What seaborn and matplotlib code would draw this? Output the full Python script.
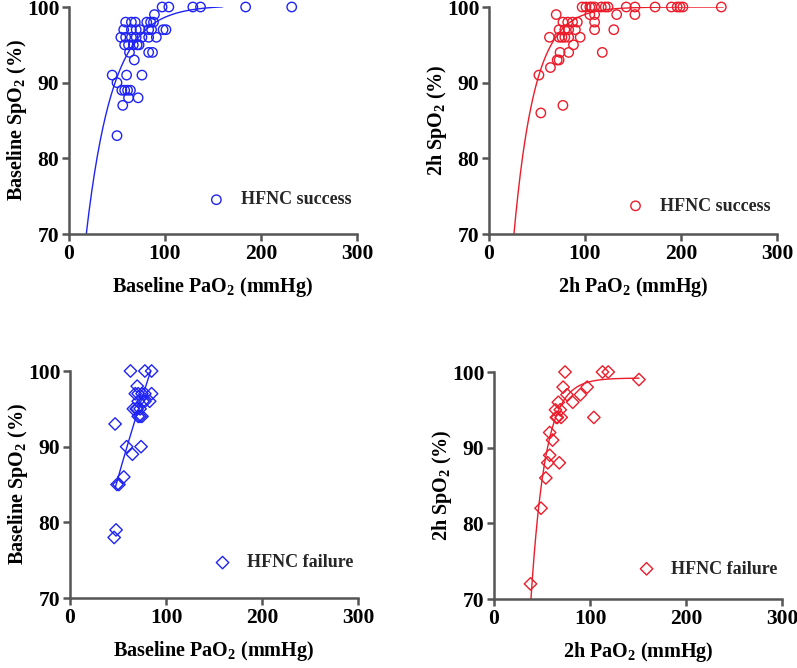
import matplotlib
matplotlib.use("Agg")
import matplotlib.pyplot as plt
import seaborn as sns
import pandas as pd
import numpy as np

# Baseline, HFNC success
base_succ_pao2 = [97, 104, 129, 137, 184, 232, 89,
                  59, 65, 69, 81, 85, 88,
                  57, 65, 70, 74, 83, 86, 98, 101,
                  54, 59, 65, 70, 76, 83, 91,
                  58, 62, 67, 71, 73,
                  63, 83, 87, 68,
                  45, 60, 76, 50,
                  55, 58, 61, 64,
                  62, 72, 56, 50]
base_succ_spo2 = [100, 100, 100, 100, 100, 100, 99,
                  98, 98, 98, 98, 98, 98,
                  97, 97, 97, 97, 97, 97, 97, 97,
                  96, 96, 96, 96, 96, 96, 96,
                  95, 95, 95, 95, 95,
                  94, 94, 94, 93,
                  91, 91, 91, 90,
                  89, 89, 89, 89,
                  88, 88, 87, 83]

# 2h, HFNC success
h2_succ_pao2 = [97, 101, 105, 107, 110, 117, 121, 124, 143, 152, 173, 190, 196, 199, 202, 242,
                70, 105, 110, 133, 152,
                77, 82, 87, 92, 110,
                73, 79, 83, 90, 110, 130,
                63, 73, 76, 79, 83, 95,
                88, 74, 83, 118,
                71, 73, 64, 52, 77, 54]
h2_succ_spo2 = [100, 100, 100, 100, 100, 100, 100, 100, 100, 100, 100, 100, 100, 100, 100, 100,
                99, 99, 99, 99, 99,
                98, 98, 98, 98, 98,
                97, 97, 97, 97, 97, 97,
                96, 96, 96, 96, 96, 96,
                95, 94, 94, 94,
                93, 93, 92, 91, 87, 86]

# Baseline, HFNC failure
base_fail_pao2 = [63, 78, 85, 70, 68, 71, 75, 78, 85, 71, 76, 78, 83,
                  66, 69, 70, 73, 71, 73, 75, 47, 59, 74, 65, 56, 49, 51, 48, 46]
base_fail_spo2 = [100, 100, 100, 98, 97, 97, 97, 97, 97, 96, 96, 96, 96,
                  95, 95, 95, 95, 94, 94, 94, 93, 90, 90, 89, 86, 85, 85, 79, 78]

# 2h, HFNC failure
h2_fail_pao2 = [74, 113, 119, 151, 72, 97, 76, 90, 67, 82, 64, 69,
                66, 70, 65, 104, 58, 61, 58, 56, 68, 54, 49, 38]
h2_fail_spo2 = [100, 100, 100, 99, 98, 98, 97, 97, 96, 96, 95, 95,
                94, 94, 94, 94, 92, 91, 89, 88, 88, 86, 82, 72]

# fitted curve parameters (plateau, start x, start y, rate, end x)
fit_base_succ = (100.2, 18, 70, 0.0362, 160)
fit_h2_succ = (100.0, 26, 70, 0.0463, 244)
fit_base_fail = (176.0, 47, 84.5, 0.005, 84)
fit_h2_fail = (99.2, 38.5, 70, 0.067, 151)

BLUE = "#1f24f5"
RED = "#ec1c2a"

sns.set_theme(style="ticks")
plt.rcParams["font.family"] = ["Liberation Serif", "DejaVu Serif"]
plt.rcParams["font.weight"] = "bold"
plt.rcParams["axes.labelweight"] = "bold"
plt.rcParams["mathtext.fontset"] = "custom"
plt.rcParams["mathtext.rm"] = "Liberation Serif:bold"
plt.rcParams["mathtext.bf"] = "Liberation Serif:bold"
plt.rcParams["mathtext.it"] = "Liberation Serif:bold"

fig = plt.figure(figsize=(7.97, 6.68), dpi=100)
W, H = 288 / 797, 227 / 668
axes_pos = [
    [69 / 797, 1 - 234 / 668, W, H],
    [489 / 797, 1 - 234 / 668, W, H],
    [70 / 797, 1 - 598 / 668, W, H],
    [494 / 797, 1 - 599 / 668, W, H],
]

panels = [
    (base_succ_pao2, base_succ_spo2, fit_base_succ, BLUE, "o", "HFNC success",
     r"Baseline PaO$_{2}$ (mmHg)", r"Baseline SpO$_{2}$ (%)", (0.449, 0.15)),
    (h2_succ_pao2, h2_succ_spo2, fit_h2_succ, RED, "o", "HFNC success",
     r"2h PaO$_{2}$ (mmHg)", r"2h SpO$_{2}$ (%)", (0.446, 0.123)),
    (base_fail_pao2, base_fail_spo2, fit_base_fail, BLUE, "D", "HFNC failure",
     r"Baseline PaO$_{2}$ (mmHg)", r"Baseline SpO$_{2}$ (%)", (0.467, 0.155)),
    (h2_fail_pao2, h2_fail_spo2, fit_h2_fail, RED, "D", "HFNC failure",
     r"2h PaO$_{2}$ (mmHg)", r"2h SpO$_{2}$ (%)", (0.467, 0.132)),
]

for pos, (xs, ys, fit, color, marker, label, xlabel, ylabel, leg) in zip(axes_pos, panels):
    ax = fig.add_axes(pos)
    df = pd.DataFrame({"pao2": xs, "spo2": ys})
    msize = 46 if marker == "o" else 40
    sns.scatterplot(data=df, x="pao2", y="spo2", ax=ax, marker=marker, s=msize,
                    facecolors="none", edgecolors=color, linewidth=1.0,
                    label=label, clip_on=False, zorder=3)
    plateau, x0, y0, k, x1 = fit
    xc = np.linspace(x0, x1, 200)
    yc = plateau - (plateau - y0) * np.exp(-k * (xc - x0))
    sns.lineplot(x=xc, y=yc, ax=ax, color=color, linewidth=1.0, zorder=2)

    ax.set_xlim(0, 300)
    ax.set_ylim(70, 100)
    ax.set_xticks([0, 100, 200, 300])
    ax.set_yticks([70, 80, 90, 100])
    sns.despine(ax=ax)
    for side in ["left", "bottom"]:
        ax.spines[side].set_color("#555555")
        ax.spines[side].set_linewidth(1.8)
    ax.tick_params(axis="both", direction="out", length=5, width=1.8,
                   color="#555555", labelsize=15.5, pad=2, labelcolor="black")
    for t in ax.get_xticklabels() + ax.get_yticklabels():
        t.set_fontweight("bold")
    ax.set_xlabel(xlabel, fontsize=14.5, fontweight="bold", color="black")
    ax.set_ylabel(ylabel, fontsize=14.5, fontweight="bold", color="black")
    ax.xaxis.set_label_coords(0.5, -0.18)
    ax.yaxis.set_label_coords(-0.14, 0.5)

    handles, labels = ax.get_legend_handles_labels()
    ax.legend(handles[:1], labels[:1], loc="center left", bbox_to_anchor=leg, frameon=False,
              borderpad=0, handlelength=1.0, handletextpad=0.85, scatterpoints=1,
              prop={"family": "Liberation Serif", "weight": "bold", "size": 13})

fig.savefig("out.png", dpi=100)
